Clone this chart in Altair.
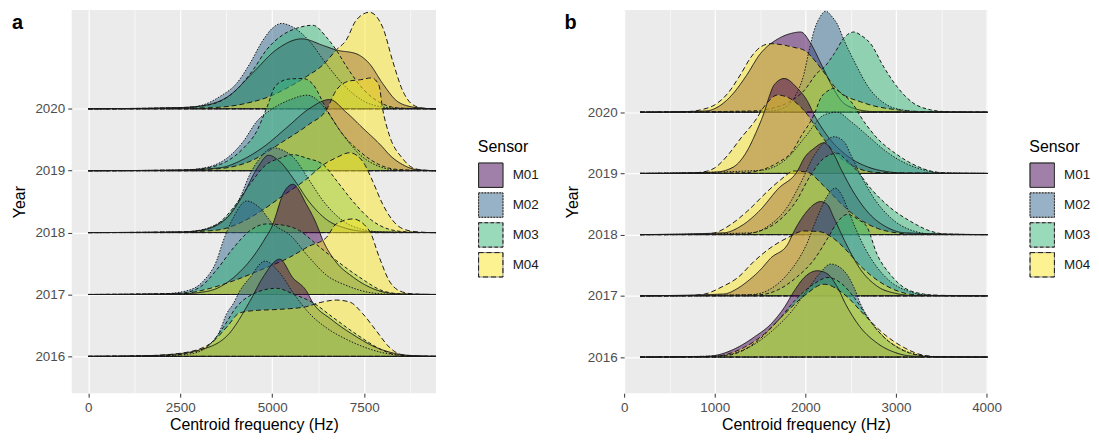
import altair as alt
import pandas as pd

SENSORS = ["M01", "M02", "M03", "M04"]
YEARS = [2020, 2019, 2018, 2017, 2016]
COLORS = ["#440154", "#31688E", "#35B779", "#FDE725"]
DASHES = [[1, 0], [1.5, 1.5], [3.5, 2.5], [5, 3]]
FONT = "Liberation Sans"

# ---- panel a : (Hz, ridge height in year units) ----
A_M01 = {
    2020: [[2500, 0.02], [3000, 0.04], [3800, 0.2], [4500, 0.6], [5100, 0.95], [5800, 1.13], [6400, 1.02], [6740, 0.95], [7280, 0.89], [7640, 0.73], [8000, 0.41], [8360, 0.14], [8720, 0.04], [9100, 0.01]],
    2019: [[2500, 0.01], [3600, 0.05], [4200, 0.18], [4800, 0.4], [5400, 0.7], [6000, 1.0], [6560, 1.15], [7000, 0.95], [7460, 0.69], [8000, 0.38], [8180, 0.26], [8540, 0.1], [8900, 0.02]],
    2018: [[2500, 0.01], [3000, 0.03], [3700, 0.2], [4200, 0.6], [4600, 1.05], [4900, 1.25], [5200, 1.15], [5600, 0.85], [6000, 0.5], [6500, 0.2], [7000, 0.07], [7500, 0.02]],
    2017: [[2500, 0.01], [3000, 0.03], [3500, 0.1], [4000, 0.3], [4400, 0.55], [4800, 0.9], [5020, 1.14], [5110, 1.3], [5290, 1.62], [5560, 1.78], [5925, 1.46], [6200, 1.14], [6380, 0.87], [6700, 0.55], [7200, 0.28], [7800, 0.08], [8400, 0.01]],
    2016: [[1500, 0.01], [2000, 0.02], [3000, 0.1], [3800, 0.35], [4400, 0.9], [4750, 1.28], [5200, 1.57], [5560, 1.27], [5925, 1.06], [6100, 0.87], [6600, 0.6], [7200, 0.35], [7800, 0.15], [8400, 0.04], [8900, 0.01]],
}
A_M02 = {
    2020: [[2000, 0.01], [2600, 0.02], [3040, 0.05], [3580, 0.2], [4030, 0.41], [4390, 0.73], [4750, 1.11], [5000, 1.3], [5250, 1.38], [5560, 1.32], [6000, 1.1], [6500, 0.7], [7000, 0.35], [7500, 0.12], [8000, 0.03], [8500, 0.01]],
    2019: [[2500, 0.01], [3000, 0.03], [3760, 0.2], [4210, 0.47], [4570, 0.79], [5000, 1.0], [5500, 1.15], [5950, 1.22], [6300, 1.1], [6500, 0.95], [6900, 0.6], [7400, 0.25], [7900, 0.07], [8400, 0.01]],
    2018: [[2500, 0.01], [2950, 0.03], [3400, 0.11], [3850, 0.3], [4120, 0.56], [4390, 0.94], [4660, 1.2], [5020, 1.37], [5290, 1.33], [5600, 1.2], [6000, 0.85], [6400, 0.5], [6900, 0.2], [7400, 0.06], [8000, 0.01]],
    2017: [[2000, 0.01], [2680, 0.06], [3130, 0.22], [3490, 0.55], [3670, 0.87], [3940, 1.24], [4300, 1.51], [4660, 1.4], [5000, 1.15], [5500, 0.95], [6000, 0.6], [6500, 0.3], [7000, 0.15], [7500, 0.05], [8000, 0.01]],
    2016: [[2000, 0.01], [2770, 0.04], [3220, 0.15], [3580, 0.42], [3760, 0.69], [3940, 0.85], [4120, 1.06], [4390, 1.27], [4800, 1.54], [5200, 1.35], [5600, 1.0], [6000, 0.7], [6500, 0.45], [7000, 0.28], [7500, 0.15], [8000, 0.06], [8500, 0.02]],
}
A_M03 = {
    2020: [[2500, 0.02], [3000, 0.04], [3580, 0.12], [4030, 0.31], [4480, 0.63], [4840, 0.95], [5300, 1.2], [5655, 1.3], [6105, 1.35], [6470, 1.16], [6740, 0.95], [7000, 0.7], [7500, 0.3], [8000, 0.08], [8500, 0.01]],
    2019: [[2500, 0.01], [3040, 0.03], [3760, 0.15], [4210, 0.36], [4570, 0.63], [4840, 1.0], [5100, 1.38], [5450, 1.48], [5830, 1.49], [6100, 1.4], [6470, 1.0], [6900, 0.6], [7400, 0.3], [7900, 0.1], [8400, 0.02]],
    2018: [[2500, 0.01], [2960, 0.03], [3490, 0.13], [3940, 0.4], [4390, 0.78], [4840, 1.1], [5200, 1.2], [5560, 1.26], [5950, 1.2], [6380, 1.1], [6800, 0.8], [7200, 0.5], [7700, 0.2], [8200, 0.05], [8700, 0.01]],
    2017: [[2500, 0.02], [3040, 0.12], [3490, 0.4], [3940, 0.75], [4390, 1.03], [4840, 1.14], [5300, 1.12], [5745, 1.03], [6200, 0.81], [6740, 0.55], [7370, 0.28], [8000, 0.06], [8500, 0.01]],
    2016: [[2000, 0.01], [2860, 0.07], [3310, 0.2], [3670, 0.47], [4030, 0.8], [4390, 0.98], [5110, 1.1], [5600, 1.0], [6100, 0.87], [6650, 0.63], [7280, 0.36], [8000, 0.1], [8400, 0.02]],
}
A_M04 = {
    2020: [[2500, 0.01], [3400, 0.02], [4300, 0.09], [4930, 0.2], [5475, 0.36], [5925, 0.52], [6380, 0.71], [6740, 0.95], [7010, 1.11], [7280, 1.43], [7640, 1.56], [8000, 1.32], [8270, 0.78], [8540, 0.3], [8810, 0.07], [9100, 0.01]],
    2019: [[2500, 0.01], [3500, 0.03], [4390, 0.15], [5290, 0.47], [6000, 0.75], [6470, 0.98], [6740, 1.3], [7100, 1.45], [7400, 1.47], [7700, 1.5], [7900, 1.38], [8000, 1.0], [8180, 0.58], [8540, 0.2], [8810, 0.05], [9100, 0.01]],
    2018: [[2500, 0.01], [3500, 0.04], [4100, 0.15], [4700, 0.35], [5300, 0.6], [5900, 0.85], [6400, 1.1], [6740, 1.21], [7100, 1.29], [7460, 1.15], [7730, 0.83], [8000, 0.46], [8360, 0.14], [8720, 0.03], [9100, 0.005]],
    2017: [[2500, 0.01], [3040, 0.06], [3940, 0.22], [4660, 0.39], [5470, 0.6], [6000, 0.78], [6470, 0.92], [6740, 1.14], [7190, 1.22], [7640, 1.03], [7910, 0.6], [8180, 0.22], [8540, 0.04], [8900, 0.005]],
    2016: [[1500, 0.01], [2500, 0.05], [3300, 0.2], [3800, 0.5], [4100, 0.7], [4500, 0.74], [5200, 0.76], [5900, 0.8], [6300, 0.87], [6740, 0.91], [7100, 0.88], [7460, 0.69], [7820, 0.42], [8180, 0.15], [8500, 0.03], [8900, 0.005]],
}

# ---- panel b ----
B_M01 = {
    2020: [[900, 0.02], [1050, 0.1], [1200, 0.3], [1350, 0.6], [1500, 0.95], [1700, 1.2], [1850, 1.29], [1950, 1.31], [2060, 1.12], [2170, 0.8], [2280, 0.47], [2390, 0.2], [2540, 0.06], [2750, 0.01]],
    2019: [[1000, 0.02], [1200, 0.1], [1350, 0.35], [1450, 0.65], [1548, 1.01], [1600, 1.25], [1657, 1.45], [1767, 1.55], [1913, 1.39], [2023, 1.18], [2096, 0.96], [2250, 0.6], [2450, 0.3], [2700, 0.1], [2900, 0.03], [3100, 0.005]],
    2018: [[1100, 0.03], [1300, 0.15], [1500, 0.4], [1700, 0.75], [1913, 1.04], [1987, 1.25], [2096, 1.41], [2206, 1.5], [2300, 1.35], [2400, 1.05], [2550, 0.65], [2700, 0.35], [2900, 0.12], [3100, 0.03]],
    2017: [[1100, 0.03], [1250, 0.12], [1364, 0.24], [1500, 0.42], [1620, 0.62], [1804, 0.84], [1877, 1.06], [2000, 1.35], [2100, 1.5], [2169, 1.54], [2243, 1.49], [2316, 1.27], [2450, 0.85], [2600, 0.45], [2800, 0.15], [3000, 0.04], [3200, 0.005]],
    2016: [[900, 0.01], [1072, 0.05], [1255, 0.16], [1438, 0.33], [1620, 0.54], [1767, 0.81], [1877, 1.08], [1987, 1.3], [2133, 1.41], [2243, 1.36], [2350, 1.15], [2450, 0.85], [2600, 0.5], [2800, 0.22], [3000, 0.07], [3200, 0.015]],
}
B_M02 = {
    2020: [[1400, 0.005], [1620, 0.02], [1800, 0.1], [1900, 0.3], [1980, 0.6], [2040, 1.0], [2100, 1.35], [2160, 1.55], [2224, 1.65], [2300, 1.55], [2352, 1.44], [2426, 1.18], [2550, 0.8], [2700, 0.4], [2900, 0.12], [3100, 0.03], [3300, 0.005]],
    2019: [[1500, 0.05], [1800, 0.25], [2000, 0.6], [2200, 0.95], [2350, 1.0], [2500, 0.85], [2700, 0.6], [2900, 0.35], [3100, 0.17], [3300, 0.06], [3500, 0.01]],
    2018: [[1400, 0.03], [1600, 0.15], [1800, 0.45], [1950, 0.85], [2100, 1.3], [2243, 1.55], [2316, 1.6], [2426, 1.52], [2500, 1.31], [2608, 0.98], [2755, 0.6], [2938, 0.28], [3194, 0.06], [3400, 0.01]],
    2017: [[1400, 0.02], [1600, 0.1], [1800, 0.35], [2000, 0.8], [2150, 1.35], [2250, 1.65], [2330, 1.76], [2400, 1.65], [2462, 1.44], [2535, 1.17], [2650, 0.8], [2800, 0.45], [2950, 0.22], [3150, 0.07], [3350, 0.01]],
    2016: [[1050, 0.02], [1250, 0.08], [1450, 0.22], [1650, 0.45], [1850, 0.75], [2000, 1.05], [2150, 1.35], [2279, 1.52], [2426, 1.41], [2536, 1.14], [2608, 0.87], [2718, 0.59], [2865, 0.33], [3047, 0.14], [3267, 0.03], [3450, 0.005]],
}
B_M03 = {
    2020: [[1400, 0.02], [1620, 0.06], [1800, 0.15], [1990, 0.36], [2130, 0.64], [2210, 0.74], [2320, 0.96], [2430, 1.22], [2536, 1.31], [2620, 1.25], [2720, 1.12], [2865, 0.74], [3010, 0.42], [3190, 0.15], [3380, 0.04], [3550, 0.01]],
    2019: [[1300, 0.01], [1500, 0.05], [1700, 0.18], [1850, 0.35], [1950, 0.6], [2096, 0.96], [2169, 1.23], [2250, 1.35], [2316, 1.39], [2400, 1.3], [2500, 1.18], [2645, 0.85], [2790, 0.58], [3010, 0.31], [3230, 0.12], [3410, 0.03], [3600, 0.005]],
    2018: [[1300, 0.01], [1500, 0.06], [1700, 0.22], [1900, 0.55], [2050, 0.95], [2206, 1.25], [2352, 1.33], [2450, 1.22], [2572, 1.04], [2718, 0.76], [2938, 0.44], [3158, 0.22], [3377, 0.06], [3550, 0.01]],
    2017: [[1500, 0.02], [1700, 0.1], [1900, 0.3], [2100, 0.6], [2250, 0.95], [2352, 1.2], [2462, 1.33], [2580, 1.25], [2682, 1.12], [2791, 0.68], [2938, 0.35], [3084, 0.14], [3304, 0.03], [3500, 0.005]],
    2016: [[1100, 0.02], [1300, 0.1], [1500, 0.3], [1700, 0.6], [1900, 0.95], [2100, 1.2], [2250, 1.3], [2400, 1.2], [2550, 0.95], [2700, 0.62], [2850, 0.35], [3050, 0.13], [3250, 0.03], [3450, 0.005]],
}
B_M04 = {
    2020: [[700, 0.01], [850, 0.04], [1000, 0.12], [1145, 0.31], [1290, 0.63], [1400, 0.9], [1510, 1.07], [1620, 1.12], [1750, 1.1], [1870, 1.06], [1990, 1.01], [2100, 0.85], [2210, 0.64], [2350, 0.37], [2650, 0.15], [3010, 0.04], [3300, 0.01]],
    2019: [[700, 0.005], [852, 0.02], [1000, 0.09], [1145, 0.3], [1290, 0.58], [1440, 0.85], [1550, 1.1], [1694, 1.28], [1877, 1.18], [2023, 0.96], [2170, 0.63], [2350, 0.3], [2570, 0.09], [2790, 0.015]],
    2018: [[850, 0.005], [1000, 0.03], [1181, 0.17], [1364, 0.39], [1584, 0.71], [1730, 0.9], [1877, 1.04], [2023, 1.02], [2200, 0.8], [2400, 0.5], [2600, 0.25], [2800, 0.1], [3000, 0.03], [3200, 0.005]],
    2017: [[700, 0.005], [890, 0.03], [1070, 0.14], [1255, 0.3], [1438, 0.57], [1620, 0.79], [1804, 0.95], [1987, 1.06], [2150, 1.05], [2300, 0.95], [2450, 0.75], [2600, 0.5], [2800, 0.25], [3000, 0.09], [3200, 0.02]],
    2016: [[1000, 0.01], [1145, 0.05], [1328, 0.16], [1548, 0.38], [1767, 0.7], [1987, 1.0], [2206, 1.19], [2426, 1.03], [2645, 0.7], [2865, 0.38], [3084, 0.16], [3304, 0.03], [3500, 0.005]],
}

A_CURVES = {"M01": A_M01, "M02": A_M02, "M03": A_M03, "M04": A_M04}
B_CURVES = {"M01": B_M01, "M02": B_M02, "M03": B_M03, "M04": B_M04}


def build(curves, lo, hi):
    rows = []
    k = 0
    for yr in YEARS:
        for s in SENSORS:
            seq = [[lo, 0.0]] + curves[s][yr] + [[hi, 0.0]]
            for x, h in seq:
                rows.append({"series": f"{k:02d}_{yr}_{s}", "Sensor": s, "Line": s, "Year": yr,
                             "x": x, "top": yr + h, "base": yr})
            k += 1
    return pd.DataFrame(rows)


def legend_def(w, visible_text):
    if visible_text:
        extra = {"symbolOpacity": 0.5, "labelOpacity": 1, "titleOpacity": 1}
    else:
        extra = {"symbolStrokeColor": "#1a1a1a", "symbolFillColor": "transparent",
                 "labelExpr": "''", "titleOpacity": 0}
    return alt.Legend(
        title="Sensor", orient="none", legendX=w + 42, legendY=130,
        symbolType="square", symbolSize=600, symbolStrokeWidth=1,
        labelOffset=9, rowPadding=0, titlePadding=7,
        labelFontSize=13.5, titleFontSize=16, labelColor="#1a1a1a",
        titleColor="#000000", titleFontWeight="normal",
        labelFont=FONT, titleFont=FONT, **extra)


def panel(df, letter, xdom, xvals, major, ydom, w):
    minor_test = f"datum.value % {major} != 0"
    xaxis = alt.Axis(values=xvals, format="d", labelFlush=False,
                     labelExpr=f"datum.value % {major} == 0 ? datum.label : ''",
                     gridWidth={"condition": {"test": minor_test, "value": 0.6}, "value": 1.2},
                     tickOpacity={"condition": {"test": minor_test, "value": 0}, "value": 1},
                     titlePadding=3)
    yaxis = alt.Axis(values=YEARS, format="d", titlePadding=7, gridWidth=1.2)
    X = alt.X("x:Q", scale=alt.Scale(domain=xdom, nice=False, zero=False),
              axis=xaxis, title="Centroid frequency (Hz)")
    ysc = alt.Scale(domain=ydom, nice=False, zero=False)
    fill = alt.Fill("Sensor:N", scale=alt.Scale(domain=SENSORS, range=COLORS),
                    legend=legend_def(w, True))
    dash = alt.StrokeDash("Line:N", scale=alt.Scale(range=DASHES),
                          legend=legend_def(w, False))

    layers = []
    for yr in YEARS:
        src = alt.Chart(df).transform_filter(alt.datum.Year == yr)
        layers.append(src.mark_area(interpolate="monotone", fillOpacity=0.5,
                                    stroke="#1a1a1a", strokeWidth=1, strokeOpacity=0).encode(
            x=X, y=alt.Y("top:Q", scale=ysc, axis=yaxis, title="Year"), y2="base:Q",
            fill=fill, detail="series:N"))
        layers.append(src.mark_line(interpolate="monotone", color="#1a1a1a", strokeWidth=1).encode(
            x=X, y=alt.Y("top:Q", scale=ysc, axis=yaxis, title="Year"),
            strokeDash=dash, detail="series:N"))
        layers.append(src.mark_line(color="#1a1a1a", strokeWidth=1).encode(
            x=X, y=alt.Y("base:Q", scale=ysc, axis=yaxis, title="Year"),
            strokeDash=dash, detail="series:N"))
    tag = alt.Chart(pd.DataFrame({"t": [letter]})).mark_text(
        align="left", baseline="top", fontSize=20, fontWeight="bold", font=FONT, color="#000000"
    ).encode(x=alt.value(-60), y=alt.value(3), text="t:N")
    layers.append(tag)
    return alt.layer(*layers).properties(width=w, height=385)


dfa = build(A_CURVES, 0, 9452)
dfb = build(B_CURVES, 176, 4010)

pa = panel(dfa, "a", [-452, 9452], [0, 1250, 2500, 3750, 5000, 6250, 7500, 8750], 2500,
           [2015.405, 2021.597], 366)
pb = panel(dfb, "b", [0, 4010], [0, 500, 1000, 1500, 2000, 2500, 3000, 3500, 4000], 1000,
           [2015.41, 2021.67], 365)

chart = alt.hconcat(pa, pb, spacing=189, bounds="flush").resolve_scale(
    fill="independent", strokeDash="independent", x="independent", y="independent"
).resolve_legend(fill="independent", strokeDash="independent").properties(
    padding={"left": 3, "top": 0, "right": 0, "bottom": 0}
).configure_view(
    fill="#EBEBEB", stroke=None
).configure_axis(
    domain=False, tickColor="#333333", tickSize=4, tickWidth=1, labelPadding=3,
    labelColor="#4D4D4D", labelFontSize=13.5, labelFont=FONT, titleFont=FONT,
    titleFontSize=16, titleColor="#000000", titleFontWeight="normal", gridColor="#FFFFFF"
)

chart.save("out.html", embed_options={"renderer": "svg", "actions": False})
